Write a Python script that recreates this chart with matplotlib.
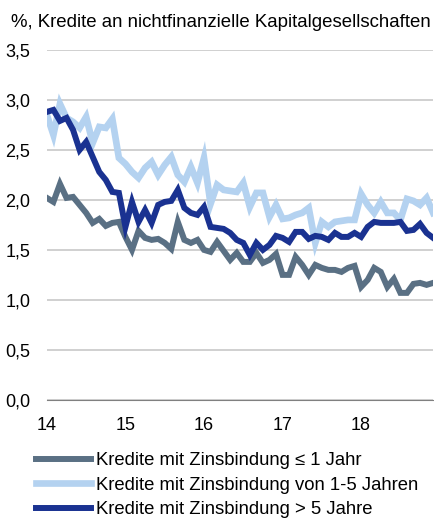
import numpy as np
import matplotlib
matplotlib.use("Agg")
import matplotlib.pyplot as plt

plt.rcParams['font.family'] = ['Liberation Sans', 'DejaVu Sans']

# Monatswerte Jan 2014 - Dez 2018
kurz = [2.02, 1.98, 2.16, 2.02, 2.03, 1.95, 1.87, 1.77, 1.81, 1.74, 1.77, 1.78,
        1.63, 1.50, 1.69, 1.62, 1.60, 1.61, 1.57, 1.51, 1.78, 1.60, 1.57, 1.60,
        1.50, 1.48, 1.58, 1.49, 1.40, 1.47, 1.38, 1.38, 1.47, 1.37, 1.40, 1.46,
        1.25, 1.25, 1.43, 1.35, 1.25, 1.35, 1.32, 1.30, 1.30, 1.28, 1.32, 1.34,
        1.13, 1.20, 1.32, 1.28, 1.13, 1.21, 1.07, 1.07, 1.16, 1.17, 1.15, 1.17]
mittel = [2.85, 2.65, 2.96, 2.82, 2.78, 2.72, 2.83, 2.57, 2.73, 2.72, 2.81, 2.42,
          2.36, 2.28, 2.22, 2.32, 2.38, 2.25, 2.35, 2.43, 2.25, 2.18, 2.33, 2.17,
          2.42, 1.96, 2.15, 2.10, 2.09, 2.08, 2.17, 1.93, 2.07, 2.07, 1.83, 1.95,
          1.81, 1.82, 1.85, 1.87, 1.92, 1.57, 1.78, 1.73, 1.78, 1.79, 1.80, 1.80,
          2.06, 1.95, 1.87, 1.98, 1.87, 1.87, 1.80, 2.01, 1.99, 1.95, 2.02, 1.87]
lang = [2.88, 2.90, 2.79, 2.82, 2.70, 2.50, 2.58, 2.43, 2.28, 2.20, 2.08, 2.07,
        1.73, 1.98, 1.78, 1.90, 1.77, 1.95, 1.98, 1.99, 2.10, 1.92, 1.87, 1.85,
        1.93, 1.73, 1.72, 1.71, 1.67, 1.60, 1.57, 1.45, 1.57, 1.50, 1.55, 1.64,
        1.62, 1.58, 1.68, 1.68, 1.61, 1.64, 1.63, 1.60, 1.67, 1.63, 1.63, 1.67,
        1.63, 1.73, 1.78, 1.77, 1.77, 1.77, 1.78, 1.69, 1.70, 1.76, 1.67, 1.62]

labels = ["Kredite mit Zinsbindung \u2264 1 Jahr",
          "Kredite mit Zinsbindung von 1-5 Jahren",
          "Kredite mit Zinsbindung > 5 Jahre"]
farben = ["#5a7084", "#b4d2f0", "#1a3291"]
breiten = [4.3, 4.8, 4.3]

x = 14 + np.arange(len(kurz)) / 12

fig = plt.figure(figsize=(4.34, 5.2), dpi=100)
ax = fig.add_axes([0.108, 0.231, 0.890, 0.673])

for y, lab, c, lw in zip([kurz, mittel, lang], labels, farben, breiten):
    ax.plot(x, y, color=c, lw=lw, label=lab, solid_joinstyle='miter')

ax.set_xlim(14, x[-1])
ax.set_ylim(0, 3.5)
ax.set_yticks(np.arange(0, 3.51, 0.5))
ax.set_yticklabels([f"{v:.1f}".replace(".", ",") for v in np.arange(0, 3.51, 0.5)],
                   fontsize=13)
ax.set_xticks([14, 15, 16, 17, 18])
ax.set_xticklabels(["14", "15", "16", "17", "18"], fontsize=13)
ax.tick_params(length=0)
ax.tick_params(axis='y', pad=12)
ax.tick_params(axis='x', pad=12)
ax.grid(axis='y', color='#c8c8c8', lw=1.2)
ax.set_axisbelow(True)
for s in ["top", "right", "left"]:
    ax.spines[s].set_visible(False)
ax.spines["bottom"].set_color("#808080")

fig.text(0.026, 0.956, "%, Kredite an nichtfinanzielle Kapitalgesellschaften",
         fontsize=13.4, va='center')

fig.legend(loc='upper left', bbox_to_anchor=(0.082, 0.13), frameon=False,
           fontsize=13.3, handlelength=3.0, handletextpad=0.25, labelspacing=0.4,
           borderpad=0, borderaxespad=0)

fig.savefig("out.png", dpi=100)
